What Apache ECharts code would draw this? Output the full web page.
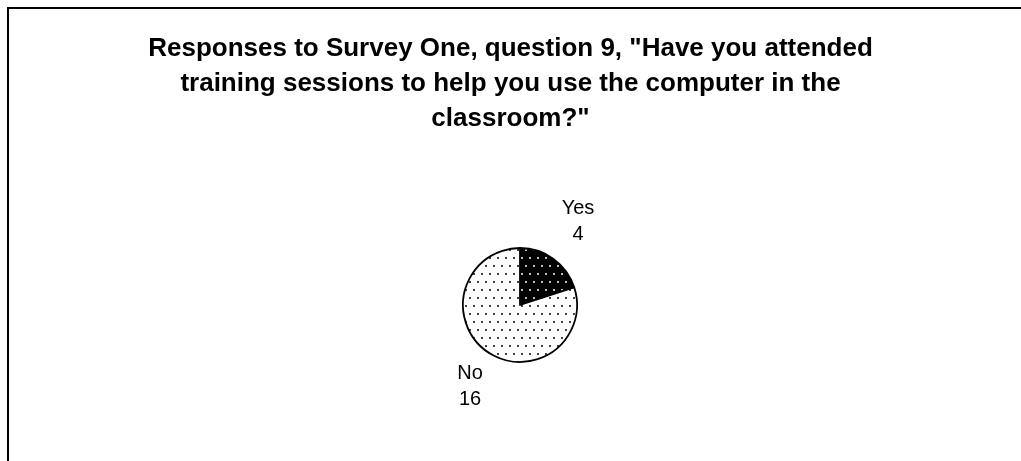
<!DOCTYPE html>
<html>
<head>
<meta charset="utf-8">
<script src="https://cdn.jsdelivr.net/npm/echarts@6/dist/echarts.min.js"></script>
<style>
  html, body { margin: 0; padding: 0; background: #fff; }
  #chart { width: 1021px; height: 461px; }
</style>
</head>
<body>
<div id="chart"></div>
<script>
// Survey One, question 9 answers
const categories = ['Yes', 'No'];
const counts = [4, 16];
const titleText = 'Responses to Survey One, question 9, "Have you attended\ntraining sessions to help you use the computer in the\nclassroom?"';

// Dotted fill tiles: staggered dot lattice on a solid ground
function dotTile(ground, dot) {
  const c = document.createElement('canvas');
  c.width = 8; c.height = 16;
  const g = c.getContext('2d');
  g.fillStyle = ground;
  g.fillRect(0, 0, 8, 16);
  g.fillStyle = dot;
  g.fillRect(1, 1, 2, 2);
  g.fillRect(5, 9, 2, 2);
  return c;
}
const fills = [
  { image: dotTile('#000', '#bbb'), repeat: 'repeat' },
  { image: dotTile('#fff', '#444'), repeat: 'repeat' }
];

// where each label block sits relative to the pie centre
const labelOffsets = [[58, -84], [-50, 81]];
const pieCenter = [520, 305];

const chart = echarts.init(document.getElementById('chart'));
chart.setOption({
  animation: false,
  backgroundColor: '#fff',
  title: {
    text: titleText,
    left: 'center',
    top: 26,
    textStyle: {
      fontFamily: 'Liberation Sans',
      fontWeight: 'bold',
      fontSize: 26,
      lineHeight: 35,
      color: '#000'
    }
  },
  graphic: [{
    type: 'rect',
    shape: { x: 8, y: 8, width: 1040, height: 480 },
    style: { fill: 'none', stroke: '#000', lineWidth: 2 },
    silent: true
  }],
  series: [{
    type: 'pie',
    center: pieCenter,
    radius: 57,
    startAngle: 90,
    clockwise: true,
    silent: true,
    itemStyle: { borderColor: '#000', borderWidth: 1.8 },
    label: {
      show: true,
      position: 'outside',
      formatter: '{b}\n{c}',
      fontFamily: 'Liberation Sans',
      fontSize: 20,
      lineHeight: 26,
      color: '#000',
      align: 'center'
    },
    labelLine: { show: false },
    labelLayout: function (p) {
      const o = labelOffsets[p.dataIndex];
      return {
        x: pieCenter[0] + o[0],
        y: pieCenter[1] + o[1],
        align: 'center',
        verticalAlign: 'middle'
      };
    },
    data: categories.map((name, i) => ({
      name: name,
      value: counts[i],
      itemStyle: { color: fills[i] }
    }))
  }]
});
</script>
</body>
</html>
